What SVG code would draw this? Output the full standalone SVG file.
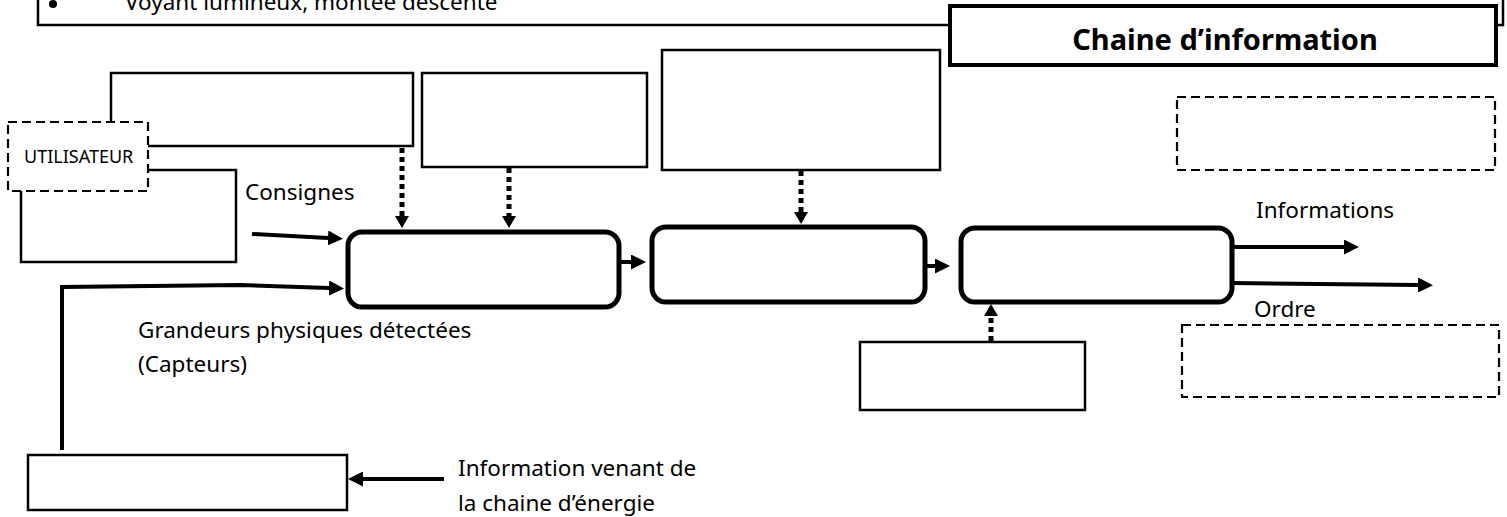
<svg xmlns="http://www.w3.org/2000/svg" width="1507" height="517" viewBox="0 0 1507 517">
  <style>
    .box { fill: #fff; stroke: #000; stroke-width: 2.5; }
    .dash { fill: #fff; stroke: #000; stroke-width: 2.2; stroke-dasharray: 9 5; }
    .block { fill: #fff; stroke: #000; stroke-width: 5; }
    .flow { fill: none; stroke: #000; stroke-width: 4; }
    .dot { fill: none; stroke: #000; stroke-width: 5; stroke-dasharray: 5 4; }
    text { font-family: "Noto Sans", "Open Sans", sans-serif; fill: #000; }
    .lbl { font-size: 22.5px; }
  </style>
  <defs>
    <marker id="head" markerWidth="15" markerHeight="15" refX="0" refY="7.5" orient="auto" markerUnits="userSpaceOnUse">
      <path d="M0,0 L15,7.5 L0,15 z" fill="#000"/>
    </marker>
    <marker id="dothead" markerWidth="12" markerHeight="14" refX="0" refY="7" orient="auto" markerUnits="userSpaceOnUse">
      <path d="M0,0 L12,7 L0,14 z" fill="#000"/>
    </marker>
  </defs>

  <!-- bullet list frame at the top -->
  <g id="list-frame">
    <rect class="box" x="38" y="-10" width="1465" height="35"/>
    <circle cx="53" cy="4" r="4" fill="#000"/>
    <text class="lbl" x="125" y="10">Voyant lumineux, montée descente</text>
  </g>

  <!-- title -->
  <g id="title">
    <rect x="950" y="6" width="546" height="59" fill="#fff" stroke="#000" stroke-width="4"/>
    <text x="1225" y="50" font-size="29" font-weight="bold" text-anchor="middle">Chaine d’information</text>
  </g>

  <!-- upper boxes -->
  <g id="box-a"><rect class="box" x="111" y="73" width="302" height="73"/></g>
  <g id="box-b"><rect class="box" x="21" y="170" width="215" height="92"/></g>
  <g id="user">
    <rect class="dash" x="8" y="122" width="140" height="69"/>
    <text x="24" y="163" font-size="18">UTILISATEUR</text>
  </g>
  <g id="box-c"><rect class="box" x="422" y="73" width="225" height="94"/></g>
  <g id="box-e"><rect class="box" x="662" y="50" width="278" height="120"/></g>
  <g id="box-top-right"><rect class="dash" x="1177" y="97" width="318" height="73"/></g>

  <!-- processing blocks -->
  <g id="block-1"><rect class="block" x="348" y="232" width="271" height="75" rx="14"/></g>
  <g id="block-2"><rect class="block" x="652" y="227" width="273" height="75" rx="14"/></g>
  <g id="block-3"><rect class="block" x="961" y="228" width="271" height="74" rx="14"/></g>

  <!-- lower boxes -->
  <g id="box-d"><rect class="box" x="860" y="342" width="225" height="68"/></g>
  <g id="box-bottom-right"><rect class="dash" x="1182" y="325" width="317" height="72"/></g>
  <g id="box-f"><rect class="box" x="28" y="455" width="319" height="55"/></g>

  <!-- connectors -->
  <g id="connectors">
    <line class="flow" x1="252" y1="234" x2="328" y2="238" marker-end="url(#head)"/>
    <polyline class="flow" points="62,450 62,287 240,285 329,288" marker-end="url(#head)"/>
    <line class="flow" x1="444" y1="479" x2="363" y2="479" marker-end="url(#head)"/>
    <line class="flow" x1="619" y1="262" x2="631" y2="262" marker-end="url(#head)"/>
    <line class="flow" x1="925" y1="266" x2="935" y2="266" marker-end="url(#head)"/>
    <line class="flow" x1="1232" y1="247" x2="1344" y2="247" marker-end="url(#head)"/>
    <line class="flow" x1="1232" y1="283" x2="1418" y2="285" marker-end="url(#head)"/>
    <line class="dot" x1="402" y1="148" x2="402" y2="216" marker-end="url(#dothead)"/>
    <line class="dot" x1="509" y1="168" x2="509" y2="216" marker-end="url(#dothead)"/>
    <line class="dot" x1="801" y1="171" x2="801" y2="212" marker-end="url(#dothead)"/>
    <line class="dot" x1="991" y1="341" x2="991" y2="316" marker-end="url(#dothead)"/>
  </g>

  <!-- labels -->
  <g id="labels">
    <text class="lbl" x="245" y="200">Consignes</text>
    <text class="lbl" x="138" y="338">Grandeurs physiques détectées</text>
    <text class="lbl" x="138" y="372">(Capteurs)</text>
    <text class="lbl" x="1256" y="218">Informations</text>
    <text class="lbl" x="1254" y="317">Ordre</text>
    <text class="lbl" x="458" y="476">Information venant de</text>
    <text class="lbl" x="458" y="511">la chaine d’énergie</text>
  </g>
</svg>
